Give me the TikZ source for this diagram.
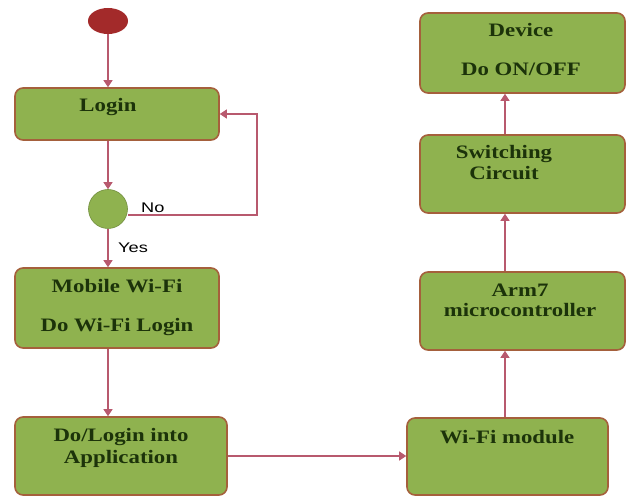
\documentclass[tikz,border=0pt]{standalone}
\usepackage{fontspec}
\setmainfont{Liberation Serif}
\newfontfamily\lblfont{Liberation Sans}
\usetikzlibrary{arrows.meta,shapes.geometric}
\definecolor{boxfill}{HTML}{8FB24F}
\definecolor{boxline}{HTML}{A5603C}
\definecolor{arrcol}{HTML}{B8596E}
\definecolor{txtcol}{HTML}{1C330A}
\definecolor{startcol}{HTML}{A32A2A}
\tikzset{
  box/.style={draw=boxline, line width=1.6pt, fill=boxfill, rounded corners=8pt, inner sep=0pt},
  btxt/.style={text=txtcol, font=\fontsize{19}{21}\selectfont\bfseries, inner sep=0pt, anchor=base},
  lbl/.style={text=black, font=\fontsize{14}{16}\selectfont\lblfont, inner sep=0pt, anchor=base west},
  arr/.style={draw=arrcol, line width=1.1pt, -{Triangle[width=9pt,length=7pt]}},
}
\newcommand{\wtxt}[1]{\scalebox{1.2}[1]{#1}}
\begin{document}
\begin{tikzpicture}[x=1pt,y=-1pt]
\useasboundingbox (0,0) rectangle (630,497);
% nodes
\node[ellipse, fill=startcol, minimum width=40pt, minimum height=26pt, inner sep=0pt] (start) at (108,21) {};
\node[box, minimum width=204pt, minimum height=52pt] (login) at (117,114) {};
\node[circle, fill=boxfill, draw=boxfill!80!black, line width=0.6pt, minimum size=39pt, inner sep=0pt] (dec) at (108,209) {};
\node[box, minimum width=204pt, minimum height=80pt] (mobile) at (117,308) {};
\node[box, minimum width=212pt, minimum height=78pt] (dologin) at (121,456) {};
\node[box, minimum width=201pt, minimum height=77pt] (wifi) at (507.5,456.5) {};
\node[box, minimum width=205pt, minimum height=78pt] (arm) at (522.5,311) {};
\node[box, minimum width=205pt, minimum height=78pt] (switch) at (522.5,174) {};
\node[box, minimum width=205pt, minimum height=80pt] (device) at (522.5,53) {};
% texts
\node[btxt] (tlogin) at (108,112) {\wtxt{Login}};
\node[btxt] (tmob1) at (117,293) {\wtxt{Mobile Wi-Fi}};
\node[btxt] (tmob2) at (117,332) {\wtxt{Do Wi-Fi Login}};
\node[btxt] (tdo1) at (121,441) {\wtxt{Do/Login into}};
\node[btxt] (tdo2) at (121,464) {\wtxt{Application}};
\node[btxt] (twifi) at (507,443) {\wtxt{Wi-Fi module}};
\node[btxt] (tarm1) at (520,297) {\wtxt{Arm7}};
\node[btxt] (tarm2) at (520,317) {\wtxt{microcontroller}};
\node[btxt] (tsw1) at (504,159) {\wtxt{Switching}};
\node[btxt] (tsw2) at (504,180) {\wtxt{Circuit}};
\node[btxt] (tdev1) at (521,37) {\wtxt{Device}};
\node[btxt] (tdev2) at (521,76) {\wtxt{Do ON/OFF}};
\node[lbl] (no) at (141,213) {\scalebox{1.3}[1]{No}};
\node[lbl] (yes) at (118,253) {\scalebox{1.3}[1]{Yes}};
% connectors
\coordinate (lp) at (257,215);
\coordinate (rx) at (505,0);
\draw[arr] (start.south) -- (start.south |- login.north);
\draw[arr] (start.south |- login.south) -- (dec.north);
\draw[arr] (dec.south) -- (dec.south |- mobile.north);
\draw[arr] (dec.south |- mobile.south) -- (dec.south |- dologin.north);
\draw[arr] (dec.east |- lp) -- (lp) |- (login.east);
\draw[arr] (dologin.east) -- (dologin.east -| wifi.west);
\draw[arr] (rx |- wifi.north) -- (rx |- arm.south);
\draw[arr] (rx |- arm.north) -- (rx |- switch.south);
\draw[arr] (rx |- switch.north) -- (rx |- device.south);
\end{tikzpicture}
\end{document}
